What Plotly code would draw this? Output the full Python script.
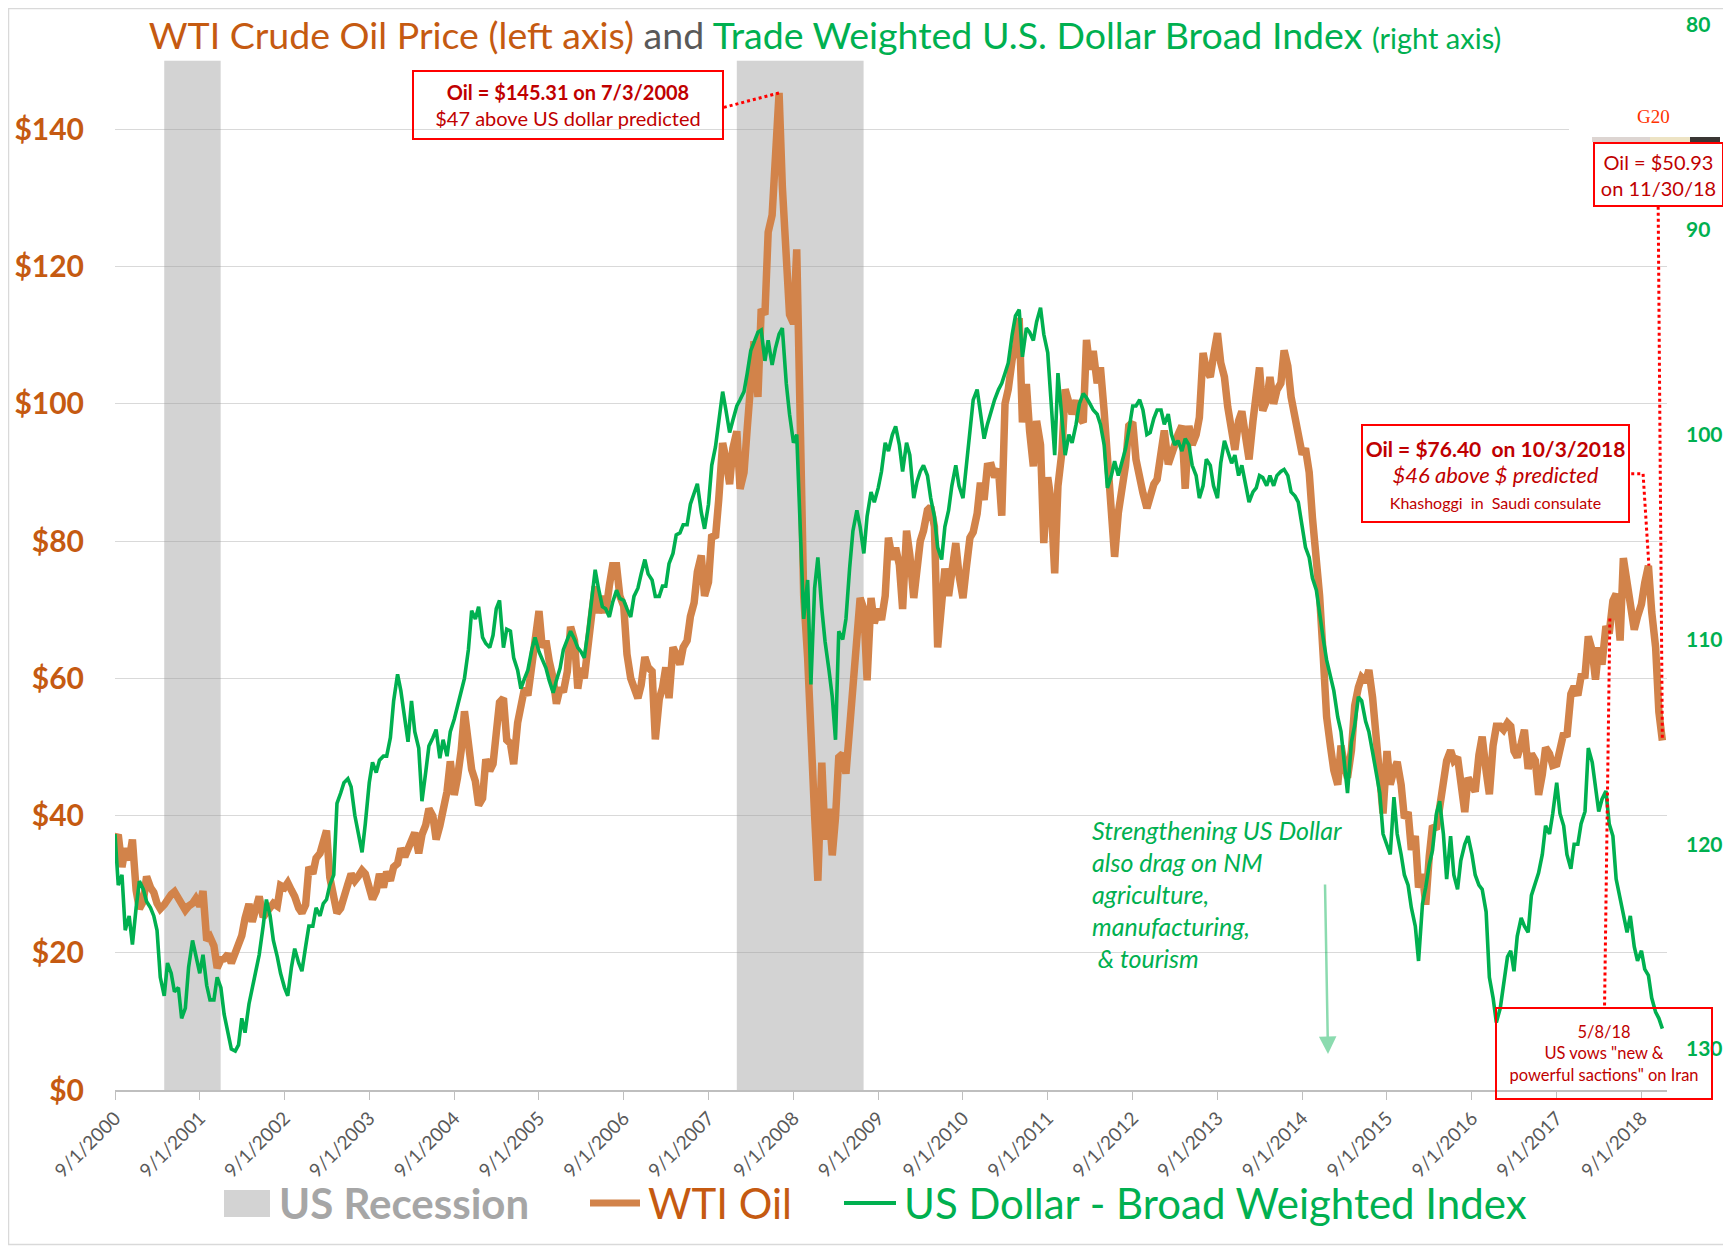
import pandas as pd
import plotly.graph_objects as go

dates = list(pd.date_range("2000-09-01", "2018-11-15", freq="SMS").strftime("%Y-%m-%d")) + ["2018-11-30"]

oil = [
    36.5, 37.2, 32.5, 35.2, 33.5, 36.5, 29.1, 26.4,  # 2000 (Sep-Dec)
    27.5, 31.1, 29.5, 28.8, 27.2, 26.4, 27.0, 27.8, 28.5, 28.9, 27.8, 27.0, 26.2, 26.8, 27.2, 27.9, 26.8, 29.0, 21.8, 22.3, 21.0, 17.8, 19.0, 19.1,
    19.8, 18.5, 20.3, 21.0, 22.5, 25.0, 27.1, 24.5, 27.0, 28.2, 25.2, 25.8, 26.8, 27.2, 26.8, 29.8, 29.5, 30.2, 29.1, 28.2, 26.5, 25.8, 27.0, 32.5,
    31.5, 33.8, 34.5, 36.5, 37.8, 31.0, 28.5, 25.8, 26.5, 28.5, 30.0, 31.5, 30.5, 31.1, 32.0, 31.5, 29.0, 27.8, 29.0, 31.5, 29.5, 31.8, 30.5, 32.5,
    33.0, 35.2, 34.0, 35.0, 36.5, 37.5, 34.5, 37.2, 38.6, 41.0, 39.9, 36.5, 38.5, 40.5, 43.5, 47.9, 43.0, 45.5, 49.5, 55.2, 50.5, 46.7, 45.0, 41.5,
    42.5, 48.2, 46.5, 47.5, 52.0, 56.5, 57.1, 51.0, 50.5, 47.5, 53.5, 56.5, 58.6, 57.5, 61.6, 65.0, 69.8, 64.5, 65.5, 62.5, 60.0, 56.3, 58.6, 58.0,
    61.0, 67.5, 65.5, 58.5, 61.5, 60.0, 66.5, 69.0, 73.4, 69.5, 72.0, 69.5, 73.5, 76.4, 76.4, 72.0, 70.5, 63.5, 60.0, 58.5, 57.1, 59.0, 63.1, 61.6,
    61.0, 51.1, 57.0, 58.6, 61.6, 57.1, 64.5, 63.5, 62.0, 64.5, 65.5, 69.0, 71.0, 75.5, 77.9, 72.0, 74.0, 80.9, 80.5, 86.0, 94.3, 92.0, 88.3, 93.5,
    96.0, 87.6, 90.0, 96.5, 102.0, 109.1, 101.0, 113.8, 113.0, 125.0, 127.5, 135.0, 145.3, 131.7, 122.9, 113.0, 111.7, 122.5, 96.0, 72.0, 63.0, 48.5, 40.0, 30.5,
    47.7, 36.5, 41.0, 34.2, 39.7, 48.5, 49.0, 46.1, 53.0, 58.1, 66.0, 71.7, 70.1, 59.7, 71.7, 68.0, 70.1, 68.5, 72.0, 80.5, 77.3, 79.0, 76.5, 70.1,
    81.5, 78.0, 71.7, 77.5, 80.0, 81.5, 84.5, 85.0, 82.1, 64.5, 73.0, 76.0, 72.0, 76.5, 79.7, 75.0, 71.7, 76.0, 80.5, 81.3, 84.0, 88.5, 86.0, 90.9,
    91.0, 89.3, 90.5, 83.7, 100.0, 102.1, 106.5, 108.0, 112.5, 97.3, 102.9, 96.0, 90.9, 97.5, 94.0, 79.7, 89.3, 86.0, 75.3, 88.0, 93.0, 102.1, 100.0, 98.5,
    100.5, 98.0, 97.3, 109.3, 105.0, 107.7, 103.0, 105.3, 98.9, 92.0, 84.0, 77.7, 84.1, 87.7, 91.0, 96.8, 97.3, 91.9, 88.5, 87.0, 84.8, 86.5, 88.3, 89.0,
    93.5, 96.1, 91.2, 93.0, 94.0, 95.5, 96.8, 87.6, 96.8, 94.0, 95.5, 98.0, 107.4, 105.0, 103.9, 107.0, 110.3, 106.0, 103.9, 99.6, 95.0, 93.3, 97.5, 98.9,
    95.0, 91.9, 97.5, 101.5, 105.3, 99.0, 100.5, 103.9, 100.0, 102.0, 103.0, 107.8, 105.5, 101.0, 97.5, 95.5, 92.6, 93.5, 90.0, 83.4, 78.4, 72.0, 62.9, 54.4,
    50.0, 46.6, 44.5, 50.2, 47.4, 45.5, 49.5, 56.0, 58.7, 60.1, 59.5, 61.2, 57.2, 51.5, 47.4, 40.3, 49.4, 44.5, 46.6, 47.8, 44.5, 39.6, 40.5, 35.0,
    37.0, 29.5, 31.5, 27.0, 34.0, 38.5, 38.0, 41.7, 45.8, 48.0, 49.5, 48.0, 48.5, 45.0, 40.5, 45.5, 44.5, 43.5, 48.8, 51.5, 46.5, 43.1, 50.2, 53.0,
    53.0, 52.5, 53.5, 53.0, 49.4, 48.5, 50.5, 52.5, 46.8, 49.0, 48.0, 43.0, 46.0, 49.9, 49.0, 47.3, 47.5, 50.0, 52.0, 51.5, 57.7, 58.8, 57.5, 60.3,
    60.4, 66.1, 64.0, 59.8, 64.5, 62.0, 67.6, 66.5, 71.3, 72.3, 65.5, 77.5, 73.5, 71.8, 67.1, 69.0, 70.8, 73.9, 76.4, 69.7, 64.5, 55.1, 50.93,  # 2018
]

usd = [
    119.5, 122.0, 121.5, 124.2, 123.5, 124.9, 123.1, 121.8,  # 2000 (Sep-Dec)
    122.2, 122.8, 123.1, 123.5, 124.2, 126.5, 127.4, 125.8, 126.3, 127.2, 127.0, 128.5, 128.0, 126.0, 124.7, 125.5, 126.3, 125.4, 126.9, 127.6, 127.6, 126.5, 127.0, 128.3,
    129.2, 130.0, 130.1, 129.8, 128.5, 129.2, 127.8, 127.0, 126.0, 125.4, 124.0, 122.7, 123.5, 124.7, 125.5, 126.3, 127.0, 127.4, 126.0, 125.1, 125.8, 126.2, 125.0, 124.0,
    124.0, 123.1, 123.5, 122.9, 122.7, 122.0, 121.5, 118.0, 117.5, 117.0, 116.8, 117.2, 118.6, 119.5, 120.4, 119.0, 117.0, 116.0, 116.5, 115.9, 115.7, 115.7, 114.8, 113.0,
    111.7, 112.5, 114.0, 115.0, 113.0, 114.5, 115.3, 117.9, 116.5, 115.2, 114.8, 114.4, 115.8, 114.9, 115.7, 114.5, 113.9, 113.3, 112.5, 111.9, 110.5, 108.6, 109.0, 108.4,
    109.9, 110.2, 110.4, 109.8, 108.5, 108.1, 110.4, 109.5, 109.6, 110.9, 111.5, 112.4, 111.9, 111.5, 110.5, 109.9, 110.6, 111.0, 111.4, 112.0, 112.6, 112.0, 111.4, 110.5,
    110.0, 109.6, 110.0, 110.4, 110.6, 110.9, 109.5, 108.0, 106.6, 107.5, 108.4, 108.5, 108.9, 108.2, 107.6, 108.0, 108.1, 108.5, 108.9, 107.9, 107.5, 106.8, 106.1, 106.8,
    107.1, 107.9, 107.9, 107.4, 107.4, 106.3, 105.8, 104.9, 104.8, 104.4, 104.4, 103.4, 102.8, 102.4, 103.8, 104.6, 103.4, 101.5, 100.6, 99.5, 97.9, 98.8, 99.9, 99.3,
    98.6, 98.3, 97.9, 97.0, 95.9, 95.5, 95.0, 94.9, 96.4, 95.4, 96.6, 95.8, 95.1, 94.8, 97.5, 99.0, 100.4, 100.0, 104.5, 109.0, 107.1, 112.2, 107.5, 106.0,
    108.5, 110.1, 111.5, 112.8, 114.9, 109.6, 110.0, 109.0, 106.5, 104.7, 103.7, 104.5, 105.8, 104.0, 102.8, 103.3, 102.6, 101.8, 100.4, 100.8, 100.0, 99.6, 100.5, 101.8,
    100.4, 101.0, 103.1, 102.3, 101.8, 101.5, 102.0, 103.1, 104.0, 105.5, 106.1, 104.5, 103.7, 102.5, 101.5, 102.5, 103.1, 101.5, 99.5, 98.3, 97.8, 99.0, 100.2, 99.5,
    98.8, 98.3, 97.8, 97.5, 97.0, 96.5, 95.1, 94.2, 93.9, 96.2, 94.8, 95.0, 95.4, 94.5, 93.8, 95.1, 96.0, 98.3, 101.0, 97.0, 99.0, 101.0, 100.0, 100.4,
    99.5, 98.5, 98.0, 98.2, 98.5, 98.8, 99.0, 99.5, 100.5, 102.6, 102.0, 101.3, 102.0, 101.4, 100.7, 99.8, 98.6, 98.6, 98.3, 98.8, 100.0, 99.9, 99.2, 98.8,
    98.8, 99.5, 99.0, 100.0, 100.5, 100.3, 100.8, 100.2, 100.5, 101.5, 102.0, 103.1, 102.5, 101.2, 101.5, 102.5, 103.1, 101.4, 100.3, 100.8, 101.4, 101.0, 102.0, 101.5,
    102.5, 103.3, 102.8, 102.6, 102.0, 102.1, 102.5, 102.0, 102.5, 102.0, 101.8, 101.7, 102.0, 102.8, 103.0, 103.3, 104.5, 105.5, 106.0, 107.0, 107.6, 108.8, 110.0, 111.0,
    111.8, 112.5, 113.8, 114.5, 116.0, 117.5, 115.0, 114.2, 112.8, 113.0, 114.0, 114.5, 115.5, 116.5, 117.5, 119.5, 120.1, 120.5, 117.7, 119.5, 120.5, 121.5, 122.0, 123.1,
    124.0, 125.7, 122.9, 122.1, 121.0, 120.3, 118.5, 117.9, 119.5, 121.7, 119.6, 121.5, 122.2, 120.8, 120.0, 119.6, 120.5, 121.5, 122.0, 122.2, 123.3, 126.5, 127.5, 128.7,
    128.0, 126.9, 125.5, 125.2, 126.2, 124.5, 123.6, 124.0, 124.3, 122.5, 121.9, 121.4, 120.5, 119.1, 119.5, 118.5, 117.0, 118.5, 119.1, 120.5, 121.2, 120.0, 120.0, 119.0,
    118.4, 115.3, 116.0, 117.2, 118.4, 117.8, 117.4, 119.0, 119.6, 121.7, 122.6, 123.5, 124.3, 123.5, 125.0, 125.7, 125.2, 126.1, 126.4, 127.5, 128.2, 128.5, 129.0,  # 2018
]

rec_start = ["2001-04-01", "2008-01-01"]
rec_end = ["2001-11-30", "2009-06-30"]
rec_top = 150

tick_dates = ["%d-09-01" % y for y in range(2000, 2019)]
tick_labels = ["9/1/%d" % y for y in range(2000, 2019)]
oil_ticks = [0, 20, 40, 60, 80, 100, 120, 140]
usd_ticks = [80, 90, 100, 110, 120, 130]

OIL_C = "#D2834A"
OIL_TXT = "#C55A11"
GREEN = "#00B050"
RED = "#C00000"
FONT = "Lato"

# the page puts the figure 8px in from the corner; positions below are page pixels
W, H, OFF = 1723, 1241, 8
L, R, T, B = 107, 1659, 17, 1082


def px(x):
    return (x - OFF - L) / (R - L)


def py(y):
    return (B - (y - OFF)) / (B - T)


fig = go.Figure()
fig.add_trace(go.Scatter(x=dates, y=oil, mode="lines", name="WTI Oil",
                         line=dict(color=OIL_C, width=7.5), showlegend=False))
fig.add_trace(go.Scatter(x=dates, y=usd, mode="lines", name="US Dollar - Broad Weighted Index",
                         yaxis="y2", line=dict(color=GREEN, width=3.6), showlegend=False))

for s, e in zip(rec_start, rec_end):
    fig.add_shape(type="rect", xref="x", yref="y", x0=s, x1=e, y0=0, y1=rec_top,
                  fillcolor="rgba(150,150,150,0.42)", line_width=0, layer="between")

# dotted red connectors from the boxes to the oil points
dots = dict(color="#FF0000", width=3, dash="dot")
connectors = [
    ("2007-11-06", 143.2, "2008-07-03", 145.31),
    ("2018-07-19", 89.8, "2018-09-08", 89.8),
    ("2018-09-08", 89.8, "2018-10-03", 76.4),
    ("2018-11-12", 128.7, "2018-11-30", 50.93),
    ("2018-04-18", 68.7, "2018-03-26", 12.1),
]
for x0, y0, x1, y1 in connectors:
    fig.add_shape(type="line", xref="x", yref="y", x0=x0, y0=y0, x1=x1, y1=y1, line=dots)

# outer frame, white patch behind the G20 picture, and the picture strip
fig.add_shape(type="rect", xref="paper", yref="paper", x0=px(8.5), x1=px(1725.5), y0=py(1244.5), y1=py(8.5),
              line=dict(color="#D9D9D9", width=1.5), layer="above")
fig.add_shape(type="rect", xref="paper", yref="paper", x0=px(1569), x1=px(1731), y0=py(137), y1=py(46),
              fillcolor="white", line_width=0, layer="above")
for x0, x1, c in [(1592, 1650, "#DDD5D2"), (1650, 1690, "#EDE3C4"), (1690, 1720, "#3A3634")]:
    fig.add_shape(type="rect", xref="paper", yref="paper", x0=px(x0), x1=px(x1), y0=py(142), y1=py(137),
                  fillcolor=c, line_width=0, layer="above")

boxes = [
    (568, 105, 308, 66, 20,
     "<b>Oil = $145.31 on 7/3/2008</b><br>$47 above US dollar predicted"),
    (1495.5, 473, 265, 95, 20,
     "<b><span style='font-size:21px'>Oil = $76.40\u00a0 on 10/3/2018</span></b><br>"
     "<i><span style='font-size:22px'>$46 above $ predicted</span></i><br>"
     "<span style='font-size:16px'>Khashoggi\u00a0 in\u00a0 Saudi consulate</span>"),
    (1658.5, 174.5, 127, 61, 20, "Oil = $50.93<br>on 11/30/18"),
    (1604, 1053.5, 214, 89, 16.5, "5/8/18<br>US vows \"new &amp;<br>powerful sactions\" on Iran"),
]
for cx, cy, w, h, fs, txt in boxes:
    fig.add_annotation(xref="paper", yref="paper", x=px(cx), y=py(cy), xanchor="center", yanchor="middle",
                       text=txt, showarrow=False, width=w, height=h, align="center", valign="middle",
                       bordercolor="#FF0000", borderwidth=2, borderpad=0,
                       font=dict(family=FONT, size=fs, color=RED))

fig.add_annotation(xref="paper", yref="paper", x=px(1653), y=py(116), xanchor="center", yanchor="middle",
                   text="G20", showarrow=False, font=dict(family="Liberation Serif", size=19, color="#FF3300"))

note_lines = ["Strengthening US Dollar", "also drag on NM", "agriculture,", "manufacturing,", "\u00a0& tourism"]
for i, line in enumerate(note_lines):
    fig.add_annotation(xref="paper", yref="paper", x=px(1090), y=py(830 + 32 * i), xanchor="left",
                       yanchor="middle", text="<i>%s</i>" % line, showarrow=False,
                       font=dict(family=FONT, size=25, color=GREEN))

fig.add_annotation(xref="paper", yref="paper", x=px(1328), y=py(1054), ax=-3, ay=-171, text="",
                   showarrow=True, arrowhead=2, arrowsize=1.4, arrowwidth=2.5,
                   arrowcolor="rgba(0,176,80,0.45)")

# legend drawn by hand below the axis
fig.add_shape(type="rect", xref="paper", yref="paper", x0=px(224), x1=px(270), y0=py(1217), y1=py(1190),
              fillcolor="#D3D3D3", line_width=0)
fig.add_shape(type="line", xref="paper", yref="paper", x0=px(590), x1=px(640), y0=py(1203), y1=py(1203),
              line=dict(color=OIL_C, width=7))
fig.add_shape(type="line", xref="paper", yref="paper", x0=px(844), x1=px(896), y0=py(1203), y1=py(1203),
              line=dict(color=GREEN, width=4))
for x, txt, c, wgt in [(277, "US Recession", "#A6A6A6", "bold"), (646, "WTI Oil", OIL_TXT, "normal"),
                       (902, "US Dollar - Broad Weighted Index", GREEN, "normal")]:
    fig.add_annotation(xref="paper", yref="paper", x=px(x), y=py(1203), xanchor="left", yanchor="middle",
                       text=txt, showarrow=False, font=dict(family=FONT, size=42, color=c, weight=wgt))

title = ("<span style='color:%s'>WTI Crude Oil Price (left axis)</span>"
         "<span style='color:#595959'> and </span>"
         "<span style='color:%s'>Trade Weighted U.S. Dollar Broad Index </span>"
         "<span style='color:%s;font-size:29px'>(right axis)</span>") % (OIL_TXT, GREEN, GREEN)

fig.update_layout(
    width=W, height=H,
    margin=dict(l=L, r=W - R, t=T, b=H - B, autoexpand=False),
    paper_bgcolor="white", plot_bgcolor="white",
    showlegend=False,
    title=dict(text=title, x=(825 - OFF) / W, xanchor="center", y=1 - (36 - OFF) / H, yanchor="middle",
               font=dict(family=FONT, size=37.5)),
    xaxis=dict(type="date", range=["2000-09-01", "2018-12-20"], tickvals=tick_dates, ticktext=tick_labels,
               tickangle=-45, ticks="outside", ticklen=8, tickcolor="#BFBFBF", showline=True,
               linecolor="#BFBFBF", linewidth=1.5, showgrid=False, zeroline=False, automargin=False,
               tickfont=dict(family=FONT, size=19, color="#595959")),
    yaxis=dict(range=[0, (B - T) / 6.862], tickvals=oil_ticks, ticktext=["$%d" % v for v in oil_ticks],
               showgrid=True, gridcolor="#D9D9D9", gridwidth=1, zeroline=False, ticks="", automargin=False,
               ticklabelstandoff=30, tickfont=dict(family=FONT, size=30, color=OIL_TXT, weight="bold")),
    yaxis2=dict(overlaying="y", side="right", range=[132, 80], tickvals=usd_ticks, showgrid=False,
                zeroline=False, ticks="", ticklabelstandoff=18, automargin=False,
                tickfont=dict(family=FONT, size=21, color=GREEN, weight="bold")),
)

fig.write_html("out.html")
